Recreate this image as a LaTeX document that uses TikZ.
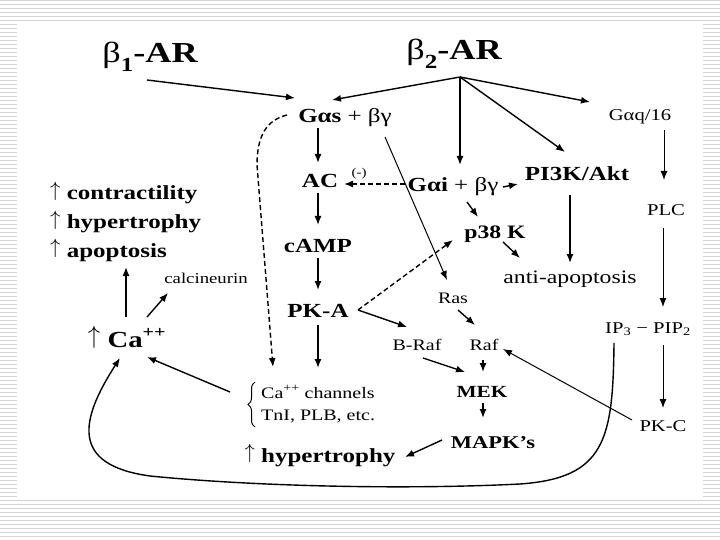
\documentclass[tikz,border=0pt]{standalone}
\usepackage{fontspec}
\setmainfont{Liberation Serif}[FakeStretch=1.25]
\usetikzlibrary{arrows.meta,calc,decorations.pathreplacing}
\newcommand\upar{\raisebox{0.17em}{$\uparrow$}}
\tikzset{
  lbl/.style={inner sep=0pt, anchor=base},
  bl/.style={lbl, font=\fontsize{#1}{#1}\selectfont\bfseries},
  rg/.style={lbl, font=\fontsize{#1}{#1}\selectfont},
  arr/.style={line width=1.4pt, -{Latex[length=9pt,width=7pt]}},
  tarr/.style={line width=1pt, -{Latex[length=9pt,width=7pt]}},
  darr/.style={arr, dash pattern=on 5pt off 3pt},
  stripe/.style={line width=1pt, black!17},
  bracestyle/.style={line width=1pt, decorate, decoration={brace, amplitude=7pt}}
}
\begin{document}
\begin{tikzpicture}[x=1pt,y=-1pt]
\useasboundingbox (0,0) rectangle (720,540);
% slide background stripes
\foreach \y in {0.5,4.5,...,20.5} \draw[stripe] (0,\y) -- (720,\y);
\foreach \y in {24.5,28.5,...,496.5} {\draw[stripe] (0,\y) -- (17,\y); \draw[stripe] (703,\y) -- (720,\y);}
\foreach \y in {500.5,504.5,...,540} \draw[stripe] (0,\y) -- (720,\y);

% nodes
\node[bl=29] (b1) at (150,63) {{\mdseries β}\raisebox{-0.28em}{\fontsize{20}{20}\selectfont 1}-AR};
\node[bl=29] (b2) at (454,60) {{\mdseries β}\raisebox{-0.28em}{\fontsize{20}{20}\selectfont 2}-AR};
\coordinate (hub) at ($(b2.base)+(6,17)$);
\node[rg=20] (gas) at (345,123) {\textbf{Gαs} + βγ};
\node[bl=20] (ac) at (320,188) {AC};
\node[rg=12] (minus) at (359,177) {(-)};
\node[rg=20] (gai) at (453,192) {\textbf{Gαi} + βγ};
\node[bl=20] (pi3k) at (577,181) {PI3K/Akt};
\node[bl=19] (p38) at (495,238) {p38 K};
\node[rg=19] (anti) at (570,283) {anti-apoptosis};
\node[rg=16.5] (gaq) at (640,121) {Gαq/16};
\node[rg=16.5] (plc) at (666,215) {PLC};
\node[rg=16.5] (ip3) at (648,333) {IP\textsubscript{3} − PIP\textsubscript{2}};
\node[rg=16.5] (pkc) at (663,431) {PK-C};
\node[bl=20] (camp) at (318,252) {cAMP};
\node[bl=20] (pka) at (318,317) {PK-A};
\node[rg=16] (ras) at (453,303) {Ras};
\node[rg=16] (braf) at (417,350) {B-Raf};
\node[rg=16] (raf) at (484,350) {Raf};
\node[bl=17] (mek) at (482,397) {MEK};
\node[bl=18] (mapk) at (493,448) {MAPK’s};
\node[bl=20] (hyp) at (320,462) {{\mdseries\upar} hypertrophy};
\node[bl=20, anchor=base west] (con) at (50,200) {{\mdseries\upar} contractility};
\node[bl=20, anchor=base west] (hyp1) at (50,229) {{\mdseries\upar} hypertrophy};
\node[bl=20, anchor=base west] (apo) at (50,257) {{\mdseries\upar} apoptosis};
\node[bl=23] (ca) at (127,347) {{\mdseries\upar} Ca\textsuperscript{++}};
\node[rg=15] (calc) at (206,283) {calcineurin};
\node[inner sep=0pt, anchor=west, align=left, font=\fontsize{16}{22}\selectfont] (cach) at (261,404)
  {Ca\textsuperscript{++} channels\\ TnI, PLB, etc.};
\draw[bracestyle] ($(cach.west)+(-6,23)$) -- ($(cach.west)+(-6,-22)$);

% connectors
\draw[arr] ($(b1.base)+(-3,17)$) -- ($(gas.base)+(-50,-25)$);
\draw[arr] (hub) -- ($(gas.base)+(-13,-23)$);
\draw[arr] (hub) -- ($(gai.base)+(7,-27)$);
\draw[arr] (hub) -- ($(pi3k.base)+(-12,-29)$);
\draw[arr] (hub) -- ($(gaq.base)+(-50,-19)$);
\draw[arr] ($(gas.base)+(-27,5)$) -- ($(ac.base)+(-2,-25)$);
\draw[arr] ($(ac.base)+(-2,5)$) -- ($(camp.base)+(0,-27)$);
\draw[arr] ($(camp.base)+(0,6)$) -- ($(pka.base)+(0,-27)$);
\draw[arr] ($(pka.base)+(0,8)$) -- ($(cach.west)+(57,-36)$);
\draw[darr] ($(gas.base)+(-58,-8)$) .. controls ($(gas.base)+(-78,-3)$) and ($(gas.base)+(-88,12)$) .. ($(gas.base)+(-88,42)$) -- ($(cach.west)+(12,-37)$);
\draw[darr] ($(gai.base)+(-48,-8)$) -- ($(ac.base)+(24,-4)$);
\draw[tarr] ($(gas.base)+(40,14)$) -- ($(ras.base)+(-6,-23)$);
\draw[arr] ($(gai.base)+(50,-5)$) -- ($(pi3k.base)+(-59,3)$);
\draw[arr] ($(gai.base)+(14,10)$) -- ($(p38.base)+(-17,-21)$);
\draw[arr] ($(p38.base)+(8,4)$) -- ($(anti.base)+(-50,-25)$);
\draw[arr] ($(pi3k.base)+(-7,14)$) -- ($(anti.base)+(0,-20)$);
\draw[tarr] ($(gaq.base)+(24,9)$) -- ($(plc.base)+(-2,-35)$);
\draw[tarr] ($(plc.base)+(-3,13)$) -- ($(ip3.base)+(15,-26)$);
\draw[tarr] ($(ip3.base)+(15,12)$) -- ($(pkc.base)+(0,-23)$);
\draw[tarr] ($(pkc.base)+(-31,-11)$) -- ($(raf.base)+(19,-1)$);
\draw[darr] ($(pka.base)+(40,-7)$) -- ($(p38.base)+(-42,2)$);
\draw[arr] ($(pka.base)+(40,-7)$) -- ($(braf.base)+(-10,-23)$);
\draw[arr] ($(ras.base)+(5,7)$) -- ($(raf.base)+(-9,-25)$);
\draw[arr] ($(braf.base)+(6,8)$) -- ($(mek.base)+(-17,-25)$);
\draw[arr] ($(raf.base)+(-1,10)$) -- ($(mek.base)+(1,-25)$);
\draw[arr] ($(mek.base)+(1,6)$) -- ($(mapk.base)+(-10,-30)$);
\draw[arr] ($(mapk.base)+(-51,-8)$) -- ($(hyp.base)+(85,-5)$);
\draw[arr] ($(ca.base)+(-1,-30)$) -- ($(apo.base west)+(76,10)$);
\draw[arr] ($(ca.base)+(20,-30)$) -- ($(calc.base)+(-38,10)$);
\draw[arr] ($(cach.west)+(-31,-12)$) -- ($(ca.base)+(20,10)$);
\coordinate (cv1) at (520,484);
\coordinate (cv2) at (150,476);
\draw[arr] ($(ip3.base)+(-34,10)$) .. controls (613,440) and (605,478) .. (cv1)
  .. controls (400,490) and (250,486) .. (cv2)
  .. controls (70,465) and (80,420) .. ($(ca.base)+(-7,11)$);
\end{tikzpicture}
\end{document}
